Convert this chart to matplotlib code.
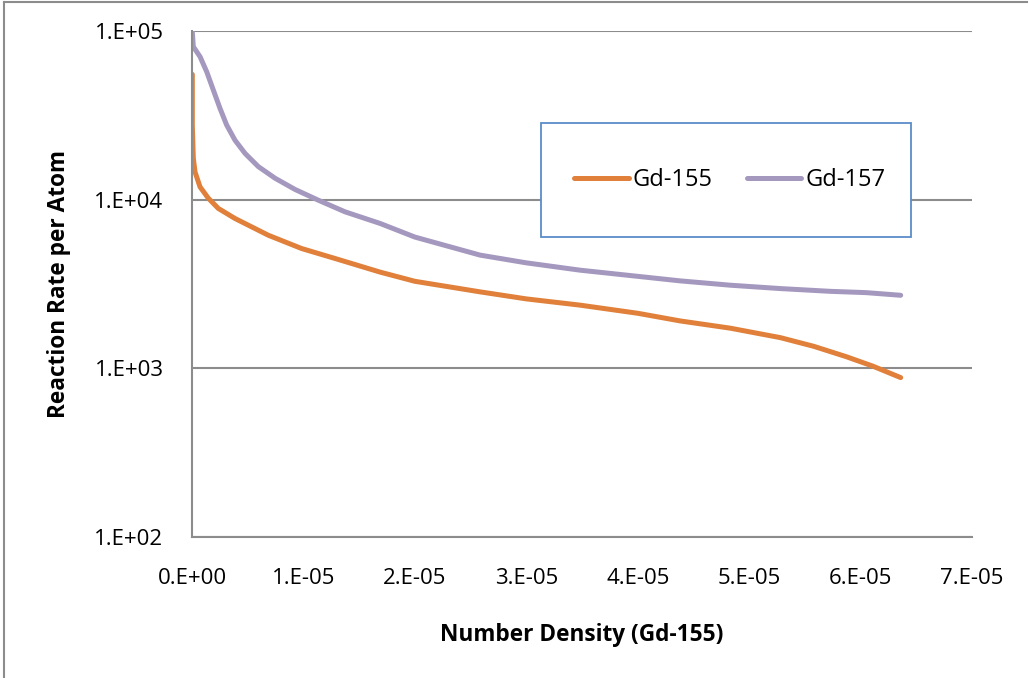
# Reaction rate per atom vs Gd-155 number density, log scale

import matplotlib.pyplot as plt
import matplotlib.patches as patches
from matplotlib.lines import Line2D

# Gd-155 curve
gd155_density = [2.7e-8, 2.7e-8, 1.17e-7, 2.7e-7, 7.2e-7, 1.46e-6, 2.36e-6, 3.86e-6,
                 6.85e-6, 9.84e-6, 1.283e-5, 1.687e-5, 2.0e-5, 2.585e-5, 3.0e-5,
                 3.48e-5, 4.0e-5, 4.38e-5, 4.83e-5, 5.28e-5, 5.58e-5, 5.875e-5,
                 6.11e-5, 6.36e-5]
gd155_rate = [5.53e4, 2.77e4, 1.76e4, 1.46e4, 1.19e4, 1.02e4, 8.87e3, 7.73e3,
              6.15e3, 5.13e3, 4.48e3, 3.72e3, 3.28e3, 2.84e3, 2.58e3,
              2.37e3, 2.12e3, 1.91e3, 1.73e3, 1.52e3, 1.35e3, 1.17e3,
              1.03e3, 8.81e2]

# Gd-157 curve
gd157_density = [2.7e-8, 1.17e-7, 7.2e-7, 1.32e-6, 1.91e-6, 2.51e-6, 3.11e-6, 3.86e-6,
                 4.76e-6, 5.95e-6, 7.45e-6, 9.24e-6, 1.133e-5, 1.373e-5, 1.687e-5,
                 2.0e-5, 2.585e-5, 3.0e-5, 3.48e-5, 4.38e-5, 4.83e-5, 5.28e-5,
                 5.73e-5, 6.05e-5, 6.36e-5]
gd157_rate = [9.9e4, 8.07e4, 7.04e4, 5.73e4, 4.47e4, 3.48e4, 2.77e4, 2.25e4,
              1.88e4, 1.57e4, 1.34e4, 1.15e4, 9.93e3, 8.47e3, 7.23e3,
              6.0e3, 4.69e3, 4.22e3, 3.82e3, 3.30e3, 3.11e3, 2.97e3,
              2.86e3, 2.81e3, 2.71e3]

x_ticks = [0, 1e-5, 2e-5, 3e-5, 4e-5, 5e-5, 6e-5, 7e-5]
x_tick_labels = ["0.E+00", "1.E-05", "2.E-05", "3.E-05", "4.E-05", "5.E-05", "6.E-05", "7.E-05"]
y_ticks = [1e2, 1e3, 1e4, 1e5]
y_tick_labels = ["1.E+02", "1.E+03", "1.E+04", "1.E+05"]

orange = '#E0803A'
purple = '#A598BF'
grid_gray = '#8C8C8C'


def main():
    plt.rcParams['font.family'] = ['Open Sans', 'DejaVu Sans']

    fig = plt.figure(figsize=(10.29, 6.78), dpi=100)
    ax = fig.add_axes([0.1866, 0.2080, 0.7580, 0.7463])

    ax.plot(gd155_density, gd155_rate, color=orange, lw=3.6, solid_capstyle='round',
            solid_joinstyle='round')
    ax.plot(gd157_density, gd157_rate, color=purple, lw=3.6, solid_capstyle='round',
            solid_joinstyle='round')

    ax.set_yscale('log')
    ax.set_xlim(0, 7e-5)
    ax.set_ylim(1e2, 1e5)
    ax.set_xticks(x_ticks)
    ax.set_xticklabels(x_tick_labels)
    ax.set_yticks(y_ticks)
    ax.set_yticklabels(y_tick_labels)
    ax.minorticks_off()
    ax.tick_params(axis='both', labelsize=16, length=0)
    ax.tick_params(axis='x', pad=22)
    ax.tick_params(axis='y', pad=20.5)

    ax.grid(axis='y', color=grid_gray, lw=1.5)
    ax.set_axisbelow(True)
    for side in ['top', 'right']:
        ax.spines[side].set_visible(False)
    for side in ['left', 'bottom']:
        ax.spines[side].set_color(grid_gray)
        ax.spines[side].set_linewidth(1.5)

    ax.set_xlabel("Number Density (Gd-155)", fontsize=16.3, fontweight='bold', labelpad=25)
    ax.set_ylabel("Reaction Rate per Atom", fontsize=16.3, fontweight='bold', labelpad=17)

    # legend box
    box = patches.Rectangle((0.4474, 0.5929), 0.4744, 0.2253, transform=ax.transAxes,
                            facecolor='white', edgecolor='#5B8CC8', lw=1.3, zorder=5)
    ax.add_patch(box)
    handles = [Line2D([], [], color=orange, lw=3.6, solid_capstyle='round'),
               Line2D([], [], color=purple, lw=3.6, solid_capstyle='round')]
    ax.legend(handles, ["Gd-155", "Gd-157"], loc='center',
              bbox_to_anchor=(0.4474 + 0.4744 / 2 + 0.005, 0.5929 + 0.2253 / 2),
              ncol=2, frameon=False, fontsize=17, handlelength=2.3, handletextpad=0.17,
              columnspacing=1.45).set_zorder(6)

    # outer chart frame (top and left edges)
    fig.add_artist(Line2D([0.004, 0.998], [0.997, 0.997], color='#8C8C8C', lw=1.5,
                          transform=fig.transFigure))
    fig.add_artist(Line2D([0.004, 0.004], [0.0, 0.997], color='#8C8C8C', lw=1.5,
                          transform=fig.transFigure))

    fig.savefig("out.png", dpi=100)


if __name__ == "__main__":
    main()
